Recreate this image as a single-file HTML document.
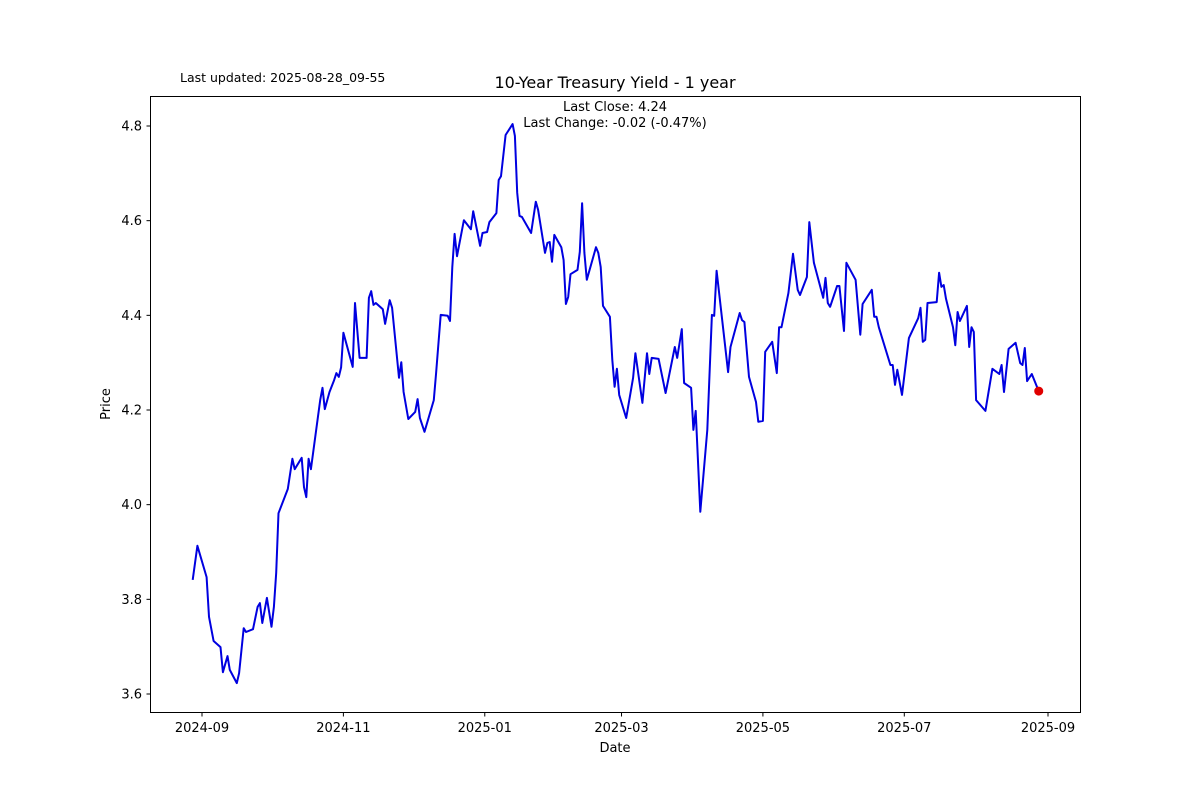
<!DOCTYPE html>
<html><head><meta charset="utf-8"><style>
html,body{margin:0;padding:0;background:#fff;}
svg{display:block;font-family:"DejaVu Sans","Liberation Sans",sans-serif;}
</style></head><body>
<svg id="chart" width="1200" height="800" viewBox="0 0 1200 800" xmlns="http://www.w3.org/2000/svg">
<rect width="1200" height="800" fill="#fff"/>
<text x="180" y="82" font-size="12.5" fill="#000">Last updated: 2025-08-28_09-55</text>
<text x="615" y="88" font-size="16" text-anchor="middle" fill="#000">10-Year Treasury Yield - 1 year</text>
<text x="615" y="111" font-size="13" text-anchor="middle" fill="#000">Last Close: 4.24</text>
<text x="615" y="127" font-size="13" text-anchor="middle" fill="#000">Last Change: -0.02 (-0.47%)</text>
<g id="plot"></g>
<rect x="150.5" y="96.5" width="930" height="616" fill="none" stroke="#000" stroke-width="1"/>
<text x="615" y="752" font-size="13" text-anchor="middle" fill="#000">Date</text>
<text x="110" y="404" font-size="13" text-anchor="middle" fill="#000" transform="rotate(-90 110 404)">Price</text>
</svg>
<script>
const START = Date.UTC(2024, 8, 1);
const dayOffsets = [-4,-2,2,3,5,8,9,11,12,15,16,18,19,22,24,25,26,28,30,31,32,33,37,39,40,43,44,45,46,47,50,51,52,53,55,57,58,59,60,61,65,66,68,71,72,73,74,75,78,79,81,82,85,86,87,89,92,93,94,96,100,101,103,106,107,108,109,110,113,116,117,120,121,123,124,127,128,129,131,134,135,136,137,138,142,144,145,148,149,150,151,152,155,156,157,158,159,162,163,164,165,166,170,171,172,173,176,177,178,179,180,183,186,187,190,192,193,194,197,200,204,205,207,208,211,212,213,215,218,220,221,222,227,228,232,233,234,236,239,240,242,243,246,248,249,250,253,255,257,258,261,262,264,268,269,270,271,274,275,277,278,282,284,285,289,290,291,292,297,298,299,300,302,305,309,310,311,312,313,317,318,319,320,321,324,325,326,327,330,331,332,333,334,338,341,344,345,346,348,351,353,354,355,356,358,361];
const prices = [3.841,3.913,3.847,3.763,3.712,3.699,3.646,3.680,3.651,3.623,3.644,3.739,3.731,3.737,3.784,3.792,3.750,3.803,3.742,3.784,3.856,3.982,4.033,4.097,4.075,4.099,4.037,4.016,4.097,4.075,4.185,4.221,4.247,4.202,4.238,4.263,4.278,4.270,4.290,4.363,4.291,4.426,4.310,4.310,4.437,4.451,4.422,4.426,4.413,4.382,4.432,4.416,4.268,4.301,4.238,4.181,4.196,4.223,4.183,4.154,4.221,4.278,4.401,4.399,4.388,4.502,4.572,4.525,4.601,4.582,4.620,4.547,4.574,4.576,4.597,4.616,4.686,4.694,4.781,4.804,4.779,4.659,4.610,4.608,4.574,4.640,4.623,4.532,4.553,4.555,4.513,4.570,4.544,4.517,4.424,4.439,4.487,4.496,4.534,4.637,4.532,4.475,4.544,4.532,4.502,4.420,4.397,4.306,4.249,4.287,4.232,4.183,4.268,4.320,4.215,4.320,4.276,4.310,4.308,4.236,4.333,4.310,4.371,4.257,4.247,4.158,4.198,3.985,4.158,4.401,4.399,4.494,4.280,4.333,4.405,4.390,4.386,4.270,4.217,4.175,4.177,4.323,4.344,4.278,4.375,4.375,4.447,4.530,4.454,4.443,4.481,4.597,4.511,4.437,4.479,4.426,4.418,4.462,4.462,4.367,4.511,4.475,4.359,4.424,4.454,4.397,4.397,4.375,4.295,4.295,4.253,4.285,4.232,4.352,4.394,4.416,4.344,4.348,4.426,4.428,4.490,4.460,4.464,4.435,4.375,4.337,4.407,4.388,4.420,4.333,4.375,4.365,4.221,4.198,4.287,4.276,4.295,4.238,4.329,4.342,4.299,4.295,4.331,4.261,4.276,4.240];
const yTicks = [3.6,3.8,4.0,4.2,4.4,4.6,4.8];
const xTickLabels = ["2024-09","2024-11","2025-01","2025-03","2025-05","2025-07","2025-09"];

const NS = "http://www.w3.org/2000/svg";
const plot = document.getElementById("plot");
const DAY = 86400000;
function xScale(days){ return 202 + days * (846/365); }
function yScale(v){ return 694 - (v - 3.6) * (568/1.2); }
function mk(tag, attrs){ const e = document.createElementNS(NS, tag); for (const k in attrs) e.setAttribute(k, attrs[k]); plot.appendChild(e); return e; }

yTicks.forEach(t => {
  const y = yScale(t);
  const tk = mk("line", {x1:146.5, x2:150.5, y1:y, y2:y, stroke:"#000"});
  
  
  const lb = mk("text", {x:142, y:y+4.5, "font-size":13, "text-anchor":"end", fill:"#000"});
  
  
  lb.textContent = t.toFixed(1);
});

xTickLabels.forEach(s => {
  const [yy, mm] = s.split("-").map(Number);
  const d = (Date.UTC(yy, mm-1, 1) - START) / DAY;
  const x = xScale(d);
  const tk = mk("line", {x1:x, x2:x, y1:712.5, y2:716.5, stroke:"#000"});
  
  
  const lb = mk("text", {x:x, y:732, "font-size":13, "text-anchor":"middle", fill:"#000"});
  
  
  lb.textContent = s;
});

const pts = dayOffsets.map((d,i) => xScale(d).toFixed(1) + "," + yScale(prices[i]).toFixed(1)).join(" ");
const line = mk("polyline", {points:pts, fill:"none", stroke:"#0000e0", "stroke-width":2, "stroke-linejoin":"round"});



const n = prices.length - 1;
const dot = mk("circle", {cx:xScale(dayOffsets[n]), cy:yScale(prices[n]), r:4.5, fill:"#e00000"});


</script>
</body></html>
